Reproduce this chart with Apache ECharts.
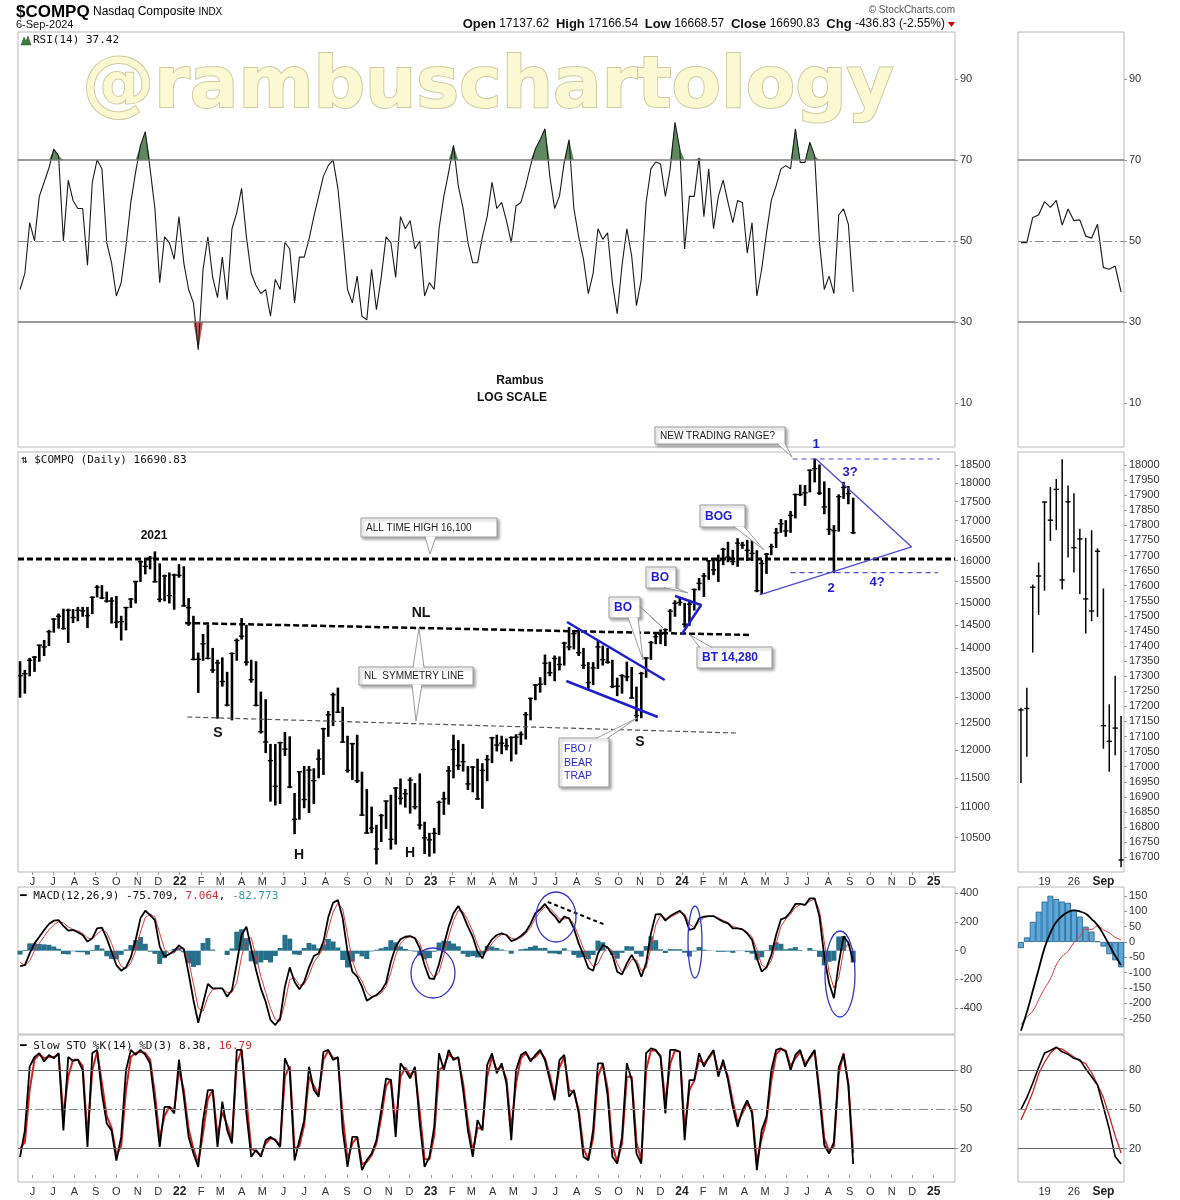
<!DOCTYPE html>
<html>
<head>
<meta charset="utf-8">
<title>$COMPQ Nasdaq Composite</title>
<script src="https://cdn.jsdelivr.net/npm/echarts@6.0.0/dist/echarts.min.js"></script>
<style>
  html, body { margin: 0; padding: 0; background: #fff; }
  #chart { width: 1180px; height: 1200px; }
</style>
</head>
<body>
<div id="chart"></div>
<script>
// weekly bars, friday closes, first one 14-May-2021
var weekStart = Date.UTC(2021, 4, 14);
var DAY = 86400000;

var priceHigh = [
  13720,13540,13790,13830,14070,14170,14390,14645,14750,14860,
  14860,14850,14900,14900,14900,15140,15400,15400,15250,15120,
  15150,14700,14900,15100,15500,15990,16000,16100,16212,15920,
  15650,15700,15670,15900,15850,15100,14700,13900,14300,14500,
  14000,13750,13800,13500,13900,14200,14650,14500,13750,13720,
  13100,12950,12100,12100,12140,12320,12240,11230,11610,11700,
  11700,11660,12000,12400,12720,13080,13180,12800,12250,12120,
  12270,11600,11300,11000,10700,10880,11100,11200,11330,11480,
  11300,11500,11400,11570,10750,10570,10650,11100,11250,11700,
  12270,12170,12100,11700,11700,11830,11750,11900,12230,12270,
  12250,12200,12240,12280,12330,12700,12980,13250,13390,13860,
  13710,13840,13820,14130,14450,14360,14400,14000,13700,13700,
  14150,14050,14000,13750,13380,13450,13710,13600,13200,13500,
  13800,14150,14300,14400,14420,14850,15050,15100,14990,15060,
  15320,15570,15690,16000,16040,16130,16300,16450,16250,16540,
  16450,16500,16540,16240,16000,16170,16400,16800,17030,17000,
  17240,17700,17940,17930,18360,18670,18500,18030,17850,16870,
  17680,18020,17905,17589
];
var priceLow = [
  13000,13080,13430,13520,13730,13850,14060,14350,14440,14420,
  14130,14560,14600,14700,14450,14760,15140,15100,15020,14550,
  14450,14180,14400,14900,15000,15500,15680,15800,15490,15030,
  15050,15000,14860,15600,14930,14500,13760,13095,13750,13780,
  13500,12590,13220,12830,12560,13750,14200,13650,13300,12830,
  12310,11950,11100,11035,11060,11900,11330,10565,10800,10990,
  10910,11060,11500,11560,12250,12450,12700,12140,11600,11470,
  11420,10860,10570,10580,10090,10440,10650,10320,10400,11050,
  11000,10900,10970,10640,10250,10210,10260,10550,10880,11050,
  11500,11650,11620,11300,11260,11130,10980,11450,11770,11980,
  11930,12000,11800,11925,12100,12200,12560,12950,13100,13250,
  13430,13330,13550,13650,13970,13990,13850,13580,13160,13250,
  13580,13650,13690,13190,13030,13080,13330,12980,12540,12600,
  13400,13770,14100,14100,14060,14370,14700,14950,14460,14500,
  14840,15300,15150,15550,15660,15500,15900,15970,15900,15860,
  16300,16000,16000,15260,15220,15690,16140,16320,16700,16600,
  16700,17070,17660,17400,17760,18030,17690,17180,16650,15708,
  16730,17585,17443,16669
];
var priceClose = [
  13430,13471,13749,13814,14069,14030,14360,14639,14701,14427,
  14837,14673,14835,14823,14715,15130,15364,15115,15044,15048,
  14567,14580,14897,15090,15498,15971,15860,16057,15491,15085,
  15630,15169,15653,15645,14935,14893,13768,13770,14098,13791,
  13548,13694,13313,12843,13894,14169,14261,13711,13351,12839,
  12335,12145,11805,11354,12131,12013,11340,10798,11608,11128,
  11636,11452,11834,12391,12657,13048,12706,12142,11631,12112,
  11448,10868,10576,10652,10321,10860,11102,10475,11323,11146,
  11226,11461,11005,10705,10498,10466,10569,11079,11140,11622,
  12007,11718,11787,11395,11689,11138,11631,11824,12222,12088,
  12123,12073,12227,12235,12284,12658,12976,13241,13259,13689,
  13492,13788,13661,14113,14032,14317,13909,13645,13291,13590,
  14031,13762,13709,13212,13219,13431,13407,12984,12643,13478,
  13798,14125,14251,14305,14404,14814,14993,15011,14524,14973,
  15311,15455,15629,15991,15776,15997,16275,16085,15973,16429,
  16379,16249,16175,15282,15928,16156,16341,16686,16921,16735,
  17133,17689,17689,17733,18353,18398,17727,17358,16776,16745,
  17632,17878,17714,16690.83
];

var rsi = [
  38,42,54.5,50,61,64.5,68,72.7,71,50,
  65,60,58,58,44,64.5,70,67.8,49.6,44.6,
  36.4,39.7,48.8,59.5,67,73.6,77,67.8,58,39.7,
  51,49.6,45.5,56,44.6,38,34.7,23.1,43,51,
  41,36,46,35.5,53,57,63,51,42,39,
  37,38,31.4,40.5,38,49.6,48,34.7,46,46,
  50.4,56,61,66,68.6,70,63,51,38,34.7,
  41.3,31.4,30.5,43,33,41,51,49.6,41,56,
  53,55,48,50,36.4,39.7,38,53,61,67,
  73.6,63.6,58,49.6,44.6,44.6,51,56,64.5,58,
  59.5,55,49.6,58.7,59.5,63.6,68.6,72.7,75,77.7,
  66,58,61,69.4,75,58,51,45.5,37,42,
  53,50.4,52,39.7,32,44,53,46.3,34,40.5,
  59.5,67.8,69.5,69,61,67.8,79.3,72.7,48,61,
  61,70.5,56,67.8,53,61,65,59.5,54.5,60,
  59.5,47,54.5,36.4,43,52,60,63.6,67.8,68.6,
  67.8,77.7,69.4,69.4,74.4,71,49.6,38,41.3,37,
  56.4,57.9,54.1,37.42
];

var macd = [
  -107,-100,-19,51,97,144,186,209,213,172,
  139,144,128,109,63,86,155,160,86,-7,
  -100,-139,-116,-46,74,225,278,248,213,28,
  -42,-23,-2,37,9,-158,-343,-501,-366,-232,
  -262,-262,-262,-320,-274,-88,109,167,16,-135,
  -262,-355,-482,-517,-471,-250,-116,-216,-269,-216,
  -116,-37,-19,63,232,334,352,225,-7,-146,
  -181,-250,-348,-325,-308,-278,-223,-77,28,79,
  97,102,86,16,-100,-192,-197,-93,39,167,
  260,311,248,167,97,-7,-53,28,79,109,
  120,109,67,79,102,132,186,260,288,325,
  276,241,195,237,225,155,51,-30,-120,-140,
  -20,39,23,-30,-146,-165,-88,-30,-88,-181,
  -88,120,253,255,209,241,260,278,241,144,
  155,225,237,241,241,220,202,190,155,155,
  148,120,74,-53,-146,-116,-30,109,218,230,
  271,325,325,318,364,364,237,-42,-227,-330,
  -90,100,55,-75.709
];
var macdSignal = [
  -80,-105,-70,0,50,100,145,180,200,195,
  165,148,138,120,90,80,115,145,125,50,
  -40,-110,-125,-85,0,130,230,255,235,120,
  10,-20,-15,15,20,-70,-230,-400,-420,-320,
  -270,-262,-262,-290,-290,-220,-40,80,90,-40,
  -180,-290,-400,-480,-490,-360,-200,-190,-240,-235,
  -170,-80,-35,20,150,270,330,290,110,-70,
  -160,-210,-290,-320,-315,-295,-250,-150,-30,50,
  85,98,92,50,-40,-140,-190,-150,-30,100,
  210,280,270,210,135,40,-25,-5,50,90,
  112,112,88,80,92,118,160,225,270,305,
  295,260,220,220,228,185,100,15,-60,-110,
  -90,-20,25,0,-90,-150,-120,-60,-65,-140,
  -120,20,180,245,225,230,250,268,255,185,
  160,200,230,238,240,228,210,196,170,158,
  150,130,95,10,-100,-120,-70,50,170,220,
  255,300,320,318,345,360,280,60,-150,-260,
  -189,-2,53,7.064
];
var macdHist = [
  -27,5,51,51,47,44,41,29,13,-23,
  -26,-4,-10,-11,-27,6,40,15,-39,-57,
  -60,-29,9,39,74,95,48,-7,-22,-92,
  -52,-3,13,22,-11,-88,-113,-101,54,88,
  8,0,0,-30,16,132,149,87,-74,-95,
  -82,-65,-82,-37,19,110,84,-26,-29,19,
  54,43,16,43,82,64,22,-65,-117,-76,
  -21,-40,-58,-5,7,17,27,73,58,29,
  12,4,-6,-34,-60,-52,-7,57,69,67,
  50,31,-22,-43,-38,-47,-28,33,29,19,
  8,-3,-21,-1,10,14,26,35,18,20,
  -19,-19,-25,17,-3,-30,-49,-45,-60,-30,
  70,59,-2,-30,-56,-15,32,30,-23,-41,
  32,100,73,10,-16,11,10,10,-14,-41,
  -5,25,7,3,1,-8,-8,-6,-15,-3,
  -2,-10,-21,-63,-46,4,40,59,48,10,
  16,25,5,0,19,4,-43,-102,-77,-70,
  99,102,2,-82.773
];

var stoK = [
  13.8,34,82.6,90,93,86.5,91.6,89,93,34,
  90,87,88,80,21.4,93,95.4,62,39.3,34,
  11,29,80,95.4,91.6,95.4,91.6,85.2,54.6,21.4,
  52,52,47,88,59.7,29,16.3,6.1,41.8,64.8,
  64.8,21.4,55.9,34.2,24,95.4,95.4,47,13.8,19,
  13.8,26.5,29,26.5,21.4,89,80,11,26.5,41.8,
  82.6,64.8,59.7,94,95.4,87.7,90,34,6.1,29,
  29,3.6,11.2,16.3,26.5,49.5,73.7,72.4,29,85.2,
  80,73.7,82.6,39.3,6.1,13.8,36.7,92.8,80,95.4,
  87.7,90,64.8,34,13.8,41.8,34,84,92.8,77.5,
  85.2,70,26.5,80,91.6,94,86.5,91.6,95.4,87.7,
  72.4,57,87.7,91.6,59.7,64.8,47,13.8,11.2,34.2,
  85.2,85.2,61,13.8,8.7,29,85.2,72.4,16.3,8.7,
  93,96.6,95.4,90,47,95.4,95.4,94,26.5,72.4,
  72.4,93,82.6,90,95.4,75,88,72.4,52,36.7,
  49.5,57,47,3.6,34.2,44.4,80,95.4,96.6,94,
  80,91.6,95.4,82.6,90,95.4,59.7,22.7,16.3,25,
  82,92,68.7,8.38
];
var stoD = [
  20,25,65,88,92,89,90,90,92,45,
  75,88,88,83,30,80,94,70,45,36,
  15,22,65,90,93,94,93,88,62,28,
  45,52,49,80,65,35,20,9,32,58,
  65,30,48,38,27,85,95,58,20,18,
  15,24,28,27,22,75,83,20,22,38,
  75,68,61,88,95,89,89,45,12,24,
  29,8,10,15,24,44,68,73,38,75,
  82,76,80,48,12,12,30,80,83,92,
  89,89,70,40,18,36,35,75,90,80,
  83,73,35,70,89,93,88,90,94,89,
  76,60,82,90,65,63,50,20,12,28,
  75,85,66,22,10,24,75,75,25,11,
  80,95,95,91,55,85,95,94,35,65,
  72,88,85,89,94,78,85,75,56,40,
  47,55,49,10,28,42,72,92,96,95,
  83,89,94,85,89,94,65,28,18,22,
  77,93,69,16.79
];

// last 18 sessions, 13-Aug to 6-Sep-2024
var miniDays = ['13','14','15','16','19','20','21','22','23','26','27','28','29','30','3','4','5','6'];
var miniHigh = [17194,17260,17602,17675,17877,17925,17952,18017,17930,17905,17787,17757,17782,17722,17589,17205,17300,17166.54];
var miniLow = [16948,17035,17380,17505,17585,17750,17786,17589,17695,17645,17574,17443,17484,17498,17061,16985,17040,16668.57];
var miniClose = [17188,17193,17595,17632,17877,17817,17919,17619,17878,17726,17755,17556,17516,17714,17136,17084,17128,16690.83];
var miniRsi = [49.6,49.6,55.8,56.4,59.7,58.3,60,53.9,57.9,55,55.2,51.2,50.7,54.1,43.4,43,43.8,37.42];
var miniMacd = [-290,-230,-160,-90,-20,30,65,85,98,103,100,92,75,55,25,-10,-45,-75.709];
var miniSignal = [-270,-245,-226,-189,-152,-121,-75,-47,-30,-2,17,42,41,53,40,30,15,7.064];
var miniHist = [-20,15,66,99,132,151,140,132,128,105,83,50,34,2,-15,-40,-60,-82.773];
var miniK = [50,59,70,82,93,95,97.5,94,92,89,87.8,81,75,68.7,52,35,14,8.38];
var miniD = [42,52,63,77,86,93,97,96,93,90,87,85,78,69,59,45,30,16.79];

// axis ticks
var rsiTicks = [10, 30, 50, 70, 90];
var priceTicks = [10500,11000,11500,12000,12500,13000,13500,14000,14500,15000,15500,16000,16500,17000,17500,18000,18500];
var miniPriceTicks = [16700,16750,16800,16850,16900,16950,17000,17050,17100,17150,17200,17250,17300,17350,17400,17450,17500,17550,17600,17650,17700,17750,17800,17850,17900,17950,18000];
var macdTicks = [-400, -200, 0, 200, 400];
var miniMacdTicks = [-250,-200,-150,-100,-50,0,50,100,150];
var stoTicks = [20, 50, 80];

var L = Math.log;
var D = function (s) { return Date.parse(s); };
var weeks = priceClose.map(function (_, i) { return weekStart + i * 7 * DAY; });
var monthStarts = [];
for (var k = 0; k <= 43; k++) monthStarts.push(Date.UTC(2021, 5 + k, 1));
var xMin = Date.UTC(2021, 4, 11), xMax = Date.UTC(2025, 1, 1);

function pairs(arr) { return weeks.map(function (t, i) { return [t, arr[i]]; }); }

function hlcBar(width, tick) {
  return function (params, api) {
    var hi = api.coord([api.value(0), api.value(1)]);
    var lo = api.coord([api.value(0), api.value(2)]);
    var cl = api.coord([api.value(0), api.value(3)]);
    var st = { stroke: '#000', lineWidth: width };
    return { type: 'group', children: [
      { type: 'line', shape: { x1: hi[0], y1: hi[1] - 0.5, x2: lo[0], y2: lo[1] + 0.5 }, style: st },
      { type: 'line', shape: { x1: cl[0] - tick, y1: cl[1], x2: cl[0] + tick, y2: cl[1] }, style: { stroke: '#000', lineWidth: 1.4 } }
    ]};
  };
}

var MONTHS = 'JFMAMJJASOND';
function monthFmt(v) {
  var d = new Date(v), m = d.getUTCMonth();
  return m === 0 ? '{y|' + String(d.getUTCFullYear()).slice(2) + '}' : MONTHS[m];
}
var labelFont = { color: '#333', fontSize: 11, fontFamily: 'Liberation Sans, Arial, sans-serif' };

// dates kept as plain numbers on a value axis so the month ticks can be placed exactly
function dateAxis(gi, show) {
  return {
    type: 'value', gridIndex: gi, min: xMin, max: xMax,
    axisLine: { show: false }, splitLine: { show: false },
    axisTick: { show: show, customValues: monthStarts, length: 3, lineStyle: { color: '#999' } },
    axisLabel: Object.assign({ show: show, customValues: monthStarts, margin: 4, formatter: monthFmt,
      rich: { y: { fontWeight: 'bold', fontSize: 12, color: '#222', fontFamily: 'Liberation Sans, Arial' } } }, labelFont)
  };
}
function miniAxis(gi, show) {
  return {
    type: 'category', gridIndex: gi, data: miniDays, boundaryGap: true,
    axisLine: { show: false }, axisTick: { show: false }, splitLine: { show: false },
    axisLabel: Object.assign({ show: show, interval: 0, margin: 4,
      formatter: function (v, i) { return i === 4 ? '19' : i === 9 ? '26' : i === 14 ? '{b|Sep}' : ''; },
      rich: { b: { fontWeight: 'bold', fontSize: 12, color: '#222', fontFamily: 'Liberation Sans, Arial' } } }, labelFont)
  };
}
function yAxis(gi, min, max, ticks, fmt) {
  return {
    type: 'value', gridIndex: gi, position: 'right', min: min, max: max,
    splitLine: { show: false }, axisLine: { show: false },
    axisTick: { show: true, length: 3, customValues: ticks, lineStyle: { color: '#999' } },
    axisLabel: Object.assign({ show: true, customValues: ticks, margin: 5,
      formatter: fmt || function (v) { return String(v); } }, labelFont)
  };
}

var rows = [
  { top: 32, height: 415 }, { top: 452, height: 420 },
  { top: 887, height: 147 }, { top: 1035, height: 147 }
];
var grids = [];
rows.forEach(function (r) { grids.push({ left: 18, width: 937, top: r.top, height: r.height }); });
rows.forEach(function (r) { grids.push({ left: 1018, width: 106, top: r.top, height: r.height }); });
grids.forEach(function (g) { g.show = true; g.borderColor = '#b8b8b8'; g.borderWidth = 1; });

function hLines(levels) {
  return {
    silent: true, symbol: ['none', 'none'], label: { show: false }, animation: false,
    data: levels.map(function (l) {
      return { yAxis: l[0], lineStyle: { color: l[1], width: l[2], type: l[3] || 'solid' } };
    })
  };
}
var dashDot = [9, 3, 2, 3];
var rsiLevels = hLines([[70, '#7a7a7a', 1.5], [30, '#7a7a7a', 1.5], [50, '#8a8a8a', 1, dashDot]]);
var stoLevels = hLines([[80, '#6a6a6a', 1.2], [20, '#6a6a6a', 1.2], [50, '#8a8a8a', 1, dashDot]]);

function seg(xi, yi, pts, color, width, type, z) {
  return {
    type: 'line', xAxisIndex: xi, yAxisIndex: yi, data: pts, symbol: 'none', silent: true,
    lineStyle: { color: color, width: width, type: type || 'solid' }, z: z || 5, animation: false
  };
}
function lp(s, p) { return [D(s), L(p)]; }

var blue = '#1e1ed2', blueThin = '#4b4bd6';

var series = [
  // RSI
  { type: 'line', xAxisIndex: 0, yAxisIndex: 0, symbol: 'none', silent: true,
    data: weeks.map(function (t, i) { return [t, Math.max(rsi[i], 70)]; }),
    lineStyle: { width: 0 }, areaStyle: { origin: 70, color: '#5f8a5f', opacity: 1 } },
  { type: 'line', xAxisIndex: 0, yAxisIndex: 0, symbol: 'none', silent: true,
    data: weeks.map(function (t, i) { return [t, Math.min(rsi[i], 30)]; }),
    lineStyle: { width: 0 }, areaStyle: { origin: 30, color: '#c45a5a', opacity: 1 } },
  { type: 'line', xAxisIndex: 0, yAxisIndex: 0, symbol: 'none', data: pairs(rsi),
    lineStyle: { color: '#1a1a1a', width: 1.1 }, markLine: rsiLevels, z: 3 },

  // price bars
  { type: 'custom', xAxisIndex: 1, yAxisIndex: 1, renderItem: hlcBar(2.6, 2.6), clip: true, silent: true,
    encode: { x: 0, y: [1, 2, 3] },
    data: weeks.map(function (t, i) { return [t, L(priceHigh[i]), L(priceLow[i]), L(priceClose[i])]; }) },

  // price annotations
  seg(1, 1, [[xMin, L(16040)], [xMax, L(16040)]], '#000', 3, [6, 3]),
  seg(1, 1, [lp('2022-01-09', 14551), lp('2024-04-12', 14288)], '#000', 2.5, [6, 3]),
  seg(1, 1, [lp('2022-01-12', 12614), lp('2024-03-20', 12311)], '#555', 1.2, [5, 3]),
  seg(1, 1, [lp('2023-07-18', 14573), lp('2023-12-07', 13343)], blue, 2.5),
  seg(1, 1, [lp('2023-07-17', 13323), lp('2023-11-27', 12614)], blue, 2.5),
  seg(1, 1, [lp('2023-12-22', 15161), lp('2024-01-29', 14955), lp('2024-01-01', 14310)], blue, 2.5),
  seg(1, 1, [lp('2024-07-14', 18669), lp('2024-11-30', 16333)], blueThin, 1.3),
  seg(1, 1, [lp('2024-04-23', 15184), lp('2024-11-30', 16333)], blueThin, 1.3),
  seg(1, 1, [lp('2024-06-10', 18669), lp('2025-01-10', 18669)], blueThin, 1.2, [5, 4]),
  seg(1, 1, [lp('2024-06-07', 15707), lp('2025-01-07', 15707)], blueThin, 1.2, [5, 4]),

  // MACD
  { type: 'bar', xAxisIndex: 2, yAxisIndex: 2, data: pairs(macdHist), barWidth: 5, silent: true,
    itemStyle: { color: '#26708c' } },
  { type: 'line', xAxisIndex: 2, yAxisIndex: 2, symbol: 'none', data: pairs(macdSignal),
    lineStyle: { color: '#e03a3a', width: 1 } },
  { type: 'line', xAxisIndex: 2, yAxisIndex: 2, symbol: 'none', data: pairs(macd),
    lineStyle: { color: '#000', width: 1.8 } },
  seg(2, 2, [[D('2023-06-20'), 339], [D('2023-09-12'), 179]], '#000', 2, [4, 3]),

  // slow stochastics
  { type: 'line', xAxisIndex: 3, yAxisIndex: 3, symbol: 'none', data: pairs(stoD),
    lineStyle: { color: '#d42020', width: 2 }, markLine: stoLevels },
  { type: 'line', xAxisIndex: 3, yAxisIndex: 3, symbol: 'none', data: pairs(stoK),
    lineStyle: { color: '#000', width: 1.8 } },

  // right hand panels
  { type: 'line', xAxisIndex: 4, yAxisIndex: 4, symbol: 'none', data: miniRsi,
    lineStyle: { color: '#222', width: 1.2 }, markLine: rsiLevels },
  { type: 'custom', xAxisIndex: 5, yAxisIndex: 5, renderItem: hlcBar(1.5, 2.6), clip: true, silent: true,
    encode: { x: 0, y: [1, 2, 3] },
    data: miniDays.map(function (d, i) { return [i, miniHigh[i], miniLow[i], miniClose[i]]; }) },
  { type: 'bar', xAxisIndex: 6, yAxisIndex: 6, data: miniHist, barCategoryGap: 0, silent: true,
    itemStyle: { color: '#5aa8dc', borderColor: '#245c80', borderWidth: 0.8 } },
  { type: 'line', xAxisIndex: 6, yAxisIndex: 6, symbol: 'none', data: miniSignal, smooth: true,
    lineStyle: { color: '#e03a3a', width: 1 } },
  { type: 'line', xAxisIndex: 6, yAxisIndex: 6, symbol: 'none', data: miniMacd, smooth: true,
    lineStyle: { color: '#000', width: 1.8 } },
  { type: 'line', xAxisIndex: 7, yAxisIndex: 7, symbol: 'none', data: miniD,
    lineStyle: { color: '#d42020', width: 1.3 }, markLine: stoLevels },
  { type: 'line', xAxisIndex: 7, yAxisIndex: 7, symbol: 'none', data: miniK,
    lineStyle: { color: '#000', width: 1.6 } }
];

// ---- text and callouts
var SANS = '"Liberation Sans", Arial, sans-serif';
var MONO = '"DejaVu Sans Mono", monospace';

function txt(x, y, text, font, fill, align, extra) {
  var st = { text: text, font: font, fill: fill || '#000', align: align || 'center', verticalAlign: 'middle',
    textAlign: align || 'center', textVerticalAlign: 'middle' };
  if (extra) Object.keys(extra).forEach(function (k) { st[k] = extra[k]; });
  return { type: 'text', x: x, y: y, z: 100, silent: true, style: st };
}

function callout(x, y, w, h, ptrs, text, color, font, lh) {
  var els = [{ type: 'rect', z: 100, silent: true, shape: { x: x, y: y, width: w, height: h },
    style: { fill: '#fff', stroke: '#9c9c9c', lineWidth: 1, shadowBlur: 3, shadowOffsetX: 2, shadowOffsetY: 2,
      shadowColor: 'rgba(0,0,0,0.35)' } }];
  ptrs.forEach(function (p) {
    els.push({ type: 'polygon', z: 101, silent: true,
      shape: { points: [[p[0], p[2]], [p[1], p[2]], [p[3], p[4]]] }, style: { fill: '#fff' } });
    els.push({ type: 'polyline', z: 101, silent: true,
      shape: { points: [[p[0], p[2]], [p[3], p[4]], [p[1], p[2]]] }, style: { stroke: '#9c9c9c', lineWidth: 1, fill: null } });
  });
  var t = txt(x + 5, y + h / 2 + 0.5, text, font, color, 'left', lh ? { lineHeight: lh } : null);
  t.z = 102;
  els.push(t);
  return els;
}

function ellipse(cx, cy, rx, ry) {
  return { type: 'ellipse', z: 100, silent: true, shape: { cx: cx, cy: cy, rx: rx, ry: ry },
    style: { fill: null, stroke: '#3434cc', lineWidth: 1.3 } };
}

var calloutFont = '10px ' + SANS;
var blueBold = 'bold 12px ' + SANS;

var graphics = [
  // watermark
  { type: 'text', x: 488, y: 88, z: 0, silent: true,
    style: { text: '@rambuschartology', font: 'bold 72px "DejaVu Sans", sans-serif', fill: '#fcf8d2',
      stroke: '#cfcaa0', lineWidth: 2, align: 'center', verticalAlign: 'middle',
      textAlign: 'center', textVerticalAlign: 'middle',
      shadowBlur: 7, shadowColor: 'rgba(80,80,40,0.5)', shadowOffsetX: 1, shadowOffsetY: 3 } },

  // header
  txt(16, 12, '{a|$COMPQ} {b|Nasdaq Composite} {c|INDX}', '12px ' + SANS, '#000', 'left',
    { rich: { a: { font: 'bold 17px ' + SANS }, b: { font: '12px ' + SANS }, c: { font: '10px ' + SANS } } }),
  txt(16, 25, '6-Sep-2024', '11px ' + SANS, '#111', 'left'),
  txt(955, 10, '\u00a9 StockCharts.com', '10px ' + SANS, '#555', 'right'),
  txt(945, 24, '{b|Open} 17137.62  {b|High} 17166.54  {b|Low} 16668.57  {b|Close} 16690.83  {b|Chg} -436.83 (-2.55%)',
    '12px "Liberation Sans Narrow", ' + SANS, '#111', 'right',
    { rich: { b: { font: 'bold 13px "Liberation Sans Narrow", ' + SANS } } }),
  { type: 'polygon', z: 100, silent: true, shape: { points: [[948, 22], [955, 22], [951.5, 27]] }, style: { fill: '#c00' } },

  // panel legends
  { type: 'polygon', z: 100, silent: true, shape: { points: [[21, 45], [24, 37], [26, 41], [28, 36], [31, 45]] },
    style: { fill: '#3c7a3c', stroke: '#2a5a2a', lineWidth: 0.5 } },
  txt(33, 40, 'RSI(14) 37.42', '11px ' + MONO, '#111', 'left'),
  txt(21, 460, '\u21c5 $COMPQ (Daily) 16690.83', '11px ' + MONO, '#111', 'left'),
  txt(20, 896, '{k|\u2501} MACD(12,26,9) -75.709, {r|7.064}, {t|-82.773}', '11px ' + MONO, '#111', 'left',
    { rich: { k: { fill: '#000', font: 'bold 11px ' + MONO }, r: { fill: '#d03030', font: '11px ' + MONO },
      t: { fill: '#3a9ab0', font: '11px ' + MONO } } }),
  txt(20, 1046, '{k|\u2501} Slow STO %K(14) %D(3) 8.38, {r|16.79}', '11px ' + MONO, '#111', 'left',
    { rich: { k: { fill: '#000', font: 'bold 11px ' + MONO }, r: { fill: '#d03030', font: '11px ' + MONO } } }),

  txt(520, 381, 'Rambus', 'bold 12px ' + SANS, '#111'),
  txt(512, 398, 'LOG SCALE', 'bold 12px ' + SANS, '#111'),

  // chart pattern labels
  txt(154, 536, '2021', 'bold 12px ' + SANS, '#111'),
  txt(421, 613, 'NL', 'bold 14px ' + SANS, '#111'),
  txt(218, 733, 'S', 'bold 14px ' + SANS, '#111'),
  txt(299, 855, 'H', 'bold 14px ' + SANS, '#111'),
  txt(410, 853, 'H', 'bold 14px ' + SANS, '#111'),
  txt(640, 742, 'S', 'bold 14px ' + SANS, '#111'),
  txt(816, 444, '1', 'bold 13px ' + SANS, blue),
  txt(850, 472, '3?', 'bold 13px ' + SANS, blue),
  txt(831, 588, '2', 'bold 13px ' + SANS, blue),
  txt(877, 582, '4?', 'bold 13px ' + SANS, blue),

  ellipse(433, 973, 22, 25),
  ellipse(556, 917, 20, 25),
  ellipse(695, 942, 7, 36),
  ellipse(840, 974, 15, 43)
];

graphics = graphics
  .concat(callout(361, 518, 136, 19, [[425, 436, 536.5, 430, 554]], 'ALL TIME HIGH 16,100', '#222', calloutFont))
  .concat(callout(359, 667, 114, 18, [[413, 424, 667.5, 419, 628], [412, 422, 684.5, 416, 721]], 'NL  SYMMETRY LINE', '#222', calloutFont))
  .concat(callout(655, 427, 130, 17, [[777, 785, 443.5, 792, 457]], 'NEW TRADING RANGE?', '#222', calloutFont))
  .concat(callout(700, 505, 45, 22, [[734, 744, 526.5, 764, 550]], 'BOG', blue, blueBold))
  .concat(callout(646, 567, 30, 21, [[664, 675, 587.5, 688, 593]], 'BO', blue, blueBold))
  .concat(callout(609, 597, 31, 21, [[628, 638, 617.5, 643, 660], [639.5, 639.5, 606, 663, 628]], 'BO', blue, blueBold))
  .concat(callout(697, 647, 75, 21, [[700, 712, 647.5, 690, 635]], 'BT 14,280', blue, blueBold))
  .concat(callout(559, 738, 50, 49, [[596, 607, 738.5, 637, 718]], 'FBO /\nBEAR\nTRAP', '#2a2ad0', '10.5px ' + SANS, 13.5));

var option = {
  animation: false,
  backgroundColor: '#fff',
  grid: grids,
  xAxis: [
    dateAxis(0, false), dateAxis(1, true), dateAxis(2, false), dateAxis(3, true),
    miniAxis(4, false), miniAxis(5, true), miniAxis(6, false), miniAxis(7, true)
  ],
  yAxis: [
    yAxis(0, -0.9, 101.6, rsiTicks),
    yAxis(1, L(9967), L(18869), priceTicks.map(L), function (v) { return String(Math.round(Math.exp(v))); }),
    yAxis(2, -579.5, 443, macdTicks),
    yAxis(3, -5.4, 106.8, stoTicks),
    yAxis(4, -0.9, 101.6, rsiTicks),
    yAxis(5, 16651, 18043, miniPriceTicks),
    yAxis(6, -300.7, 179.7, miniMacdTicks),
    yAxis(7, -5.4, 106.8, stoTicks)
  ],
  series: series,
  graphic: { elements: graphics }
};

var chart = echarts.init(document.getElementById('chart'));
chart.setOption(option);
</script>
</body>
</html>
